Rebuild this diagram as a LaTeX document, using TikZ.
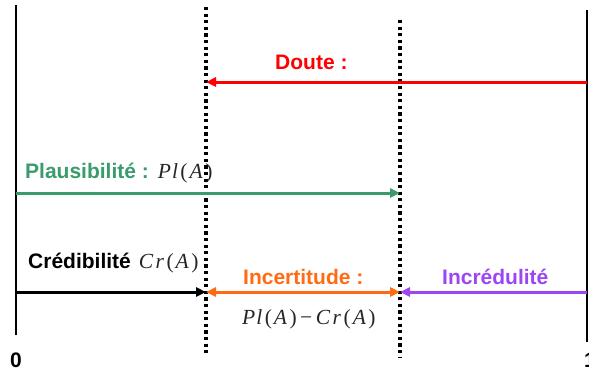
\documentclass[tikz,border=0pt]{standalone}
\usepackage{fontspec}
\setmainfont{Liberation Sans}
\newfontfamily\mserif{Liberation Serif}
\usetikzlibrary{arrows.meta}
\definecolor{cred}{RGB}{255,0,0}
\definecolor{cgreen}{RGB}{58,155,107}
\definecolor{corange}{RGB}{255,106,19}
\definecolor{cpurple}{RGB}{155,69,245}
\newcommand{\mvar}[1]{{\mserif\itshape #1}}
\newcommand{\mpar}[1]{{\mserif #1}}
\newcommand{\PlA}{\mvar{P}\kern1pt\mvar{l}\kern2.5pt\mpar{(}\kern2pt\mvar{A}\kern2.5pt\mpar{)}}
\newcommand{\CrA}{\mvar{C}\kern2.5pt\mvar{r}\kern2.5pt\mpar{(}\kern2pt\mvar{A}\kern2.5pt\mpar{)}}
\begin{document}
\begin{tikzpicture}[x=1pt,y=-1pt,
  lbl/.style={inner sep=0pt,anchor=base west,font=\fontsize{21}{25}\selectfont\bfseries},
  mlbl/.style={inner sep=0pt,anchor=base west,font=\fontsize{21.5}{25}\selectfont},
  axisline/.style={line width=2pt,black},
  dotline/.style={line width=3.6pt,black,dash pattern=on 3.2pt off 3.4pt},
  arr/.style={line width=3pt,-{Triangle[length=10pt,width=9pt]}},
  dblarr/.style={line width=3pt,{Triangle[length=10pt,width=9pt]}-{Triangle[length=10pt,width=9pt]}}]
\useasboundingbox (0,0) rectangle (589,376);
% coordinates
\coordinate (Ltop) at (16,5);
\coordinate (Lbot) at (16,335);
\coordinate (Rtop) at (587,10);
\coordinate (Rbot) at (587,342);
\coordinate (D1top) at (206,7);
\coordinate (D1bot) at (206,354);
\coordinate (D2top) at (400,20);
\coordinate (D2bot) at (400,358);
\coordinate (redR) at (587,82);
\coordinate (redL) at (206,82);
\coordinate (grL) at (16,193);
\coordinate (grR) at (400,193);
\coordinate (blL) at (16,292);
\coordinate (blR) at (206,292);
\coordinate (orL) at (206,292);
\coordinate (orR) at (400,292);
\coordinate (puR) at (587,292);
\coordinate (puL) at (400,292);
% lines
\draw[axisline] (Ltop) -- (Lbot);
\draw[axisline] (Rtop) -- (Rbot);
\draw[dotline] (D1top) -- (D1bot);
\draw[dotline] (D2top) -- (D2bot);
% arrows
\draw[arr,cred] (redR) -- (redL);
\draw[arr,cgreen] (grL) -- (grR);
\draw[arr,black] (blL) -- (blR);
\draw[dblarr,corange] (orL) -- (orR);
\draw[arr,cpurple] (puR) -- (puL);
% labels
\node[lbl,text=cred] (doute) at (275,69) {Doute :};
\node[lbl,text=cgreen] (plaus) at (25,178) {Plausibilité :\hspace{9pt}\mdseries\fontsize{21.5}{25}\selectfont\color{black!85}\PlA};
\node[lbl,text=black] (cred) at (28,268) {Crédibilité\hspace{8pt}\mdseries\fontsize{21.5}{25}\selectfont\color{black!85}\CrA};
\node[lbl,text=corange] (incert) at (243,284) {Incertitude :};
\node[mlbl,text=black!85] (diff) at (242,324) {\PlA\kern3.5pt{\mserif\textminus}\kern3.5pt\CrA};
\node[lbl,text=cpurple] (incred) at (442,284) {Incrédulité};
\node[lbl,anchor=base] (zero) at (16,367) {0};
\node[lbl] (one) at (584,367) {1};
\end{tikzpicture}
\end{document}
